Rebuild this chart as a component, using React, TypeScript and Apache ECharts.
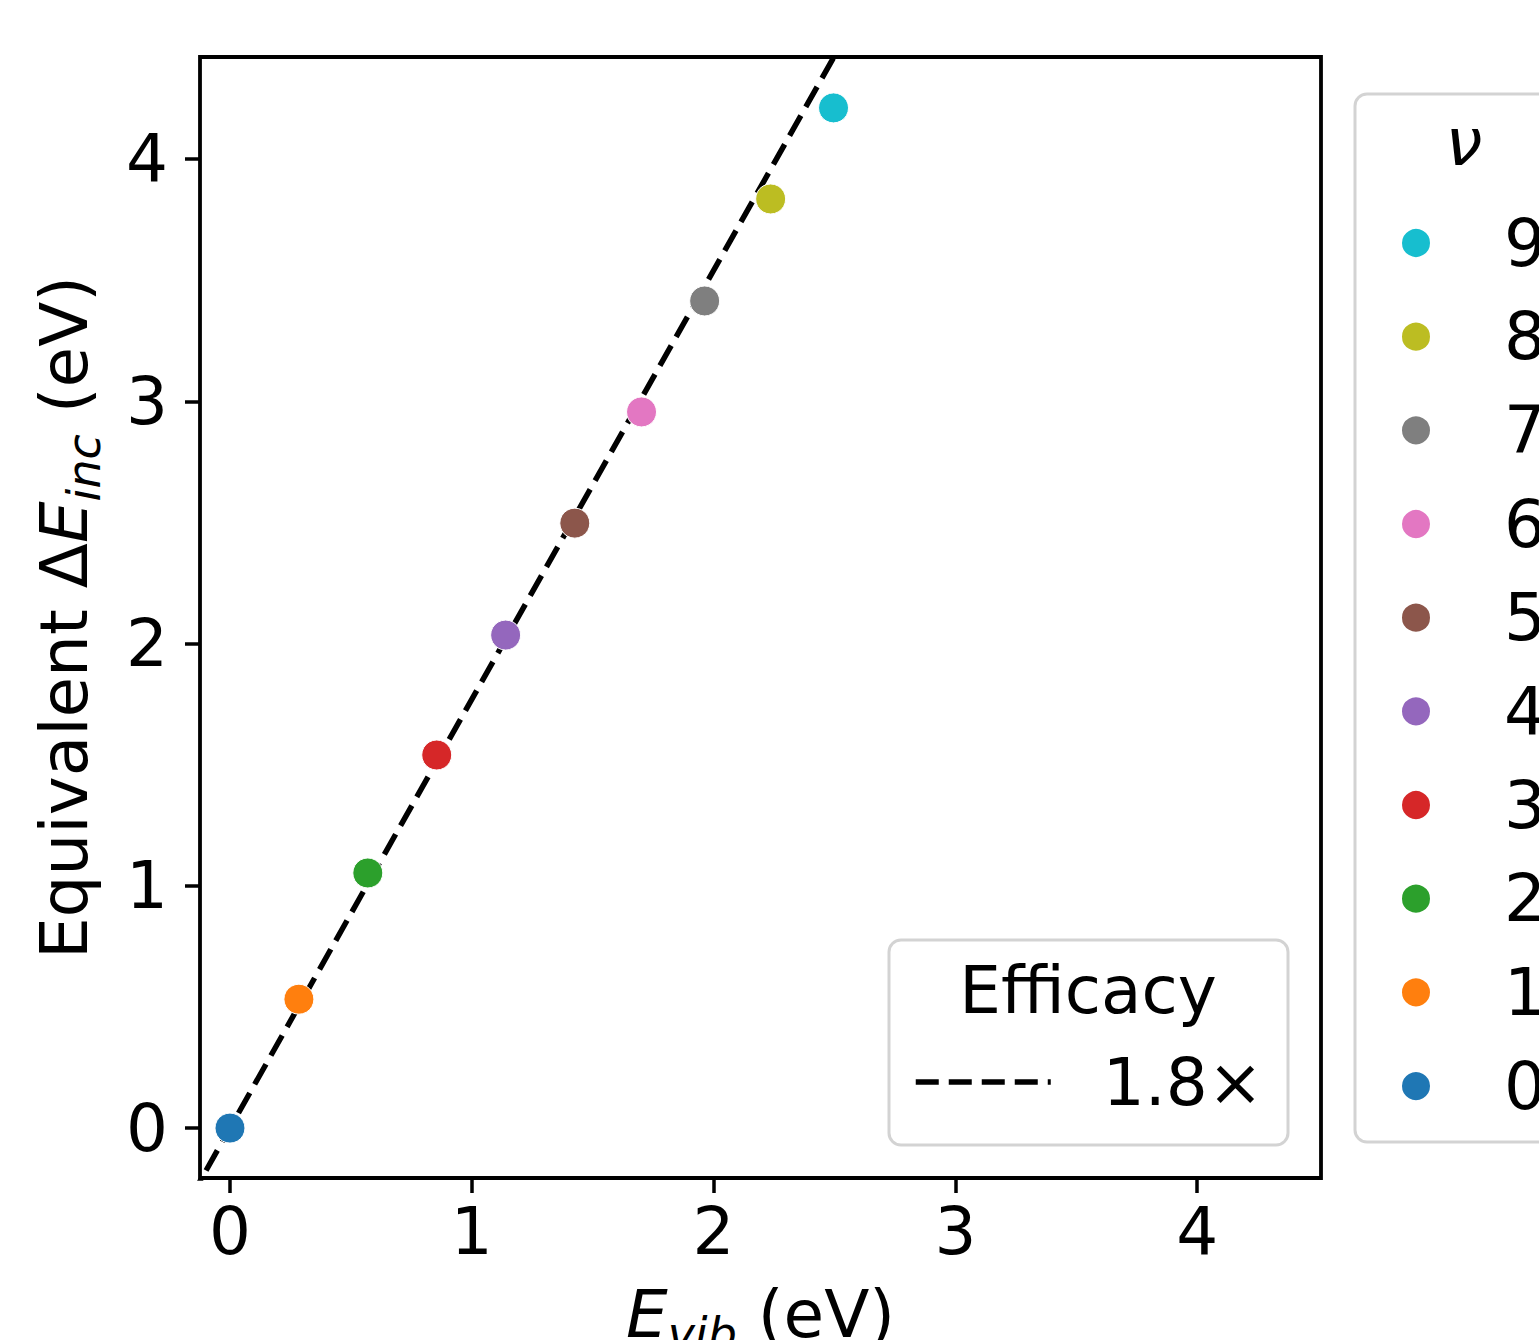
import React, { useEffect, useRef } from 'react';
import * as echarts from 'echarts';

const FONT = 'DejaVu Sans';

// vibrational levels ν
const nuLevels = ['0', '1', '2', '3', '4', '5', '6', '7', '8', '9'];
// E_vib (eV)
const evib = [0, 0.285, 0.570, 0.855, 1.140, 1.426, 1.702, 1.963, 2.236, 2.496];
// Equivalent ΔE_inc (eV)
const deltaEinc = [0, 0.532, 1.053, 1.540, 2.035, 2.497, 2.956, 3.414, 3.835, 4.211];
const levelColors = [
  '#1f77b4', '#ff7f0e', '#2ca02c', '#d62728', '#9467bd',
  '#8c564b', '#e377c2', '#7f7f7f', '#bcbd22', '#17becf',
];

// efficacy line
const efficacySlope = 1.77;
const efficacyLabel = '1.8×';
const efficacyX = [-0.3, 2.7];

// axes
const tickValues = [0, 1, 2, 3, 4];
const xRange = [-0.124, 4.512];
const yRange = [-0.206, 4.421];

export default function App() {
  const ref = useRef<HTMLDivElement>(null);

  useEffect(() => {
    if (!ref.current) return;
    const chart = echarts.init(ref.current, undefined, { renderer: 'svg' });

    const scatterSeries = nuLevels.map((lvl, i) => ({
      type: 'scatter',
      name: lvl,
      data: [[evib[i], deltaEinc[i]]],
      symbol: 'circle',
      symbolSize: 30,
      itemStyle: { color: levelColors[i], borderColor: '#ffffff', borderWidth: 1, opacity: 1 },
      z: 3,
    }));

    const axisText = { fontFamily: FONT, fontSize: 66, color: '#000' };

    const richName = {
      t: { fontFamily: FONT, fontSize: 66, lineHeight: 66, verticalAlign: 'top', color: '#000' },
      i: { fontFamily: FONT, fontSize: 66, lineHeight: 66, fontStyle: 'italic', verticalAlign: 'top', color: '#000' },
      s: { fontFamily: FONT, fontSize: 46, fontStyle: 'italic', padding: [30, 0, 0, 0], verticalAlign: 'top', color: '#000' },
    };

    const tickStyle = {
      show: true,
      inside: false,
      length: 15,
      lineStyle: { color: '#000', width: 3.5 },
      customValues: tickValues,
    };

    chart.setOption({
      animation: false,
      backgroundColor: '#ffffff',
      grid: {
        left: 200,
        top: 57,
        right: 218,
        bottom: 162,
        outerBoundsMode: 'none',
        containLabel: false,
        show: true,
        borderColor: '#000',
        borderWidth: 3.8,
        backgroundColor: 'transparent',
      },
      xAxis: {
        type: 'value',
        min: xRange[0],
        max: xRange[1],
        splitLine: { show: false },
        axisLine: { show: false, onZero: false },
        axisTick: tickStyle,
        axisLabel: { ...axisText, margin: 20, customValues: tickValues },
        name: '{i|E}{s|vib}{t| (eV)}',
        nameLocation: 'middle',
        nameGap: 103,
        nameTextStyle: { ...axisText, rich: richName },
      },
      yAxis: {
        type: 'value',
        min: yRange[0],
        max: yRange[1],
        splitLine: { show: false },
        axisLine: { show: false, onZero: false },
        axisTick: tickStyle,
        axisLabel: { ...axisText, margin: 32, customValues: tickValues },
        name: '{t|Equivalent Δ}{i|E}{s|inc}{t| (eV)}',
        nameLocation: 'middle',
        nameRotate: 90,
        nameGap: 93,
        nameTextStyle: { ...axisText, rich: richName },
      },
      legend: [
        {
          data: nuLevels.slice().reverse(),
          orient: 'vertical',
          left: 1400,
          top: 210,
          padding: 0,
          itemWidth: 30,
          itemHeight: 30,
          itemGap: 27.67,
          icon: 'circle',
          textStyle: {
            fontFamily: FONT,
            fontSize: 66,
            color: '#000',
            padding: [0, 0, 0, 68],
          },
        },
        {
          data: [efficacyLabel],
          orient: 'vertical',
          left: 913,
          top: 1049,
          padding: 0,
          itemWidth: 135,
          itemHeight: 30,
          itemStyle: { opacity: 0 },
          lineStyle: { color: '#000', width: 5.5, type: [23, 10] },
          textStyle: {
            fontFamily: FONT,
            fontSize: 66,
            color: '#000',
            padding: [0, 0, 0, 47],
          },
        },
      ],
      graphic: [
        {
          type: 'rect',
          z: 1,
          shape: { x: 1355, y: 94, width: 300, height: 1048, r: 12 },
          style: { fill: 'rgba(255,255,255,0.8)', stroke: '#d3d3d3', lineWidth: 3 },
        },
        {
          type: 'text',
          z: 5,
          x: 1464,
          y: 142,
          style: {
            text: 'ν',
            font: 'italic 66px "DejaVu Sans"',
            fill: '#000',
            align: 'center',
            verticalAlign: 'middle',
          },
        },
        {
          type: 'rect',
          z: 3,
          shape: { x: 889, y: 940, width: 399, height: 205, r: 12 },
          style: { fill: 'rgba(255,255,255,0.8)', stroke: '#d3d3d3', lineWidth: 3 },
        },
        {
          type: 'text',
          z: 5,
          x: 1088,
          y: 990,
          style: {
            text: 'Efficacy',
            font: '66px "DejaVu Sans"',
            fill: '#000',
            align: 'center',
            verticalAlign: 'middle',
          },
        },
      ],
      series: [
        {
          type: 'line',
          name: efficacyLabel,
          data: efficacyX.map((x) => [x, efficacySlope * x]),
          symbol: 'none',
          showSymbol: false,
          clip: true,
          lineStyle: { color: '#000', width: 5.5, type: [23, 10] },
          itemStyle: { color: '#000' },
          z: 2,
        },
        ...scatterSeries,
      ],
    });

    return () => {
      chart.dispose();
    };
  }, []);

  return (
    <div
      ref={ref}
      style={{ position: 'absolute', left: 0, top: 0, width: 1539, height: 1340 }}
    />
  );
}
